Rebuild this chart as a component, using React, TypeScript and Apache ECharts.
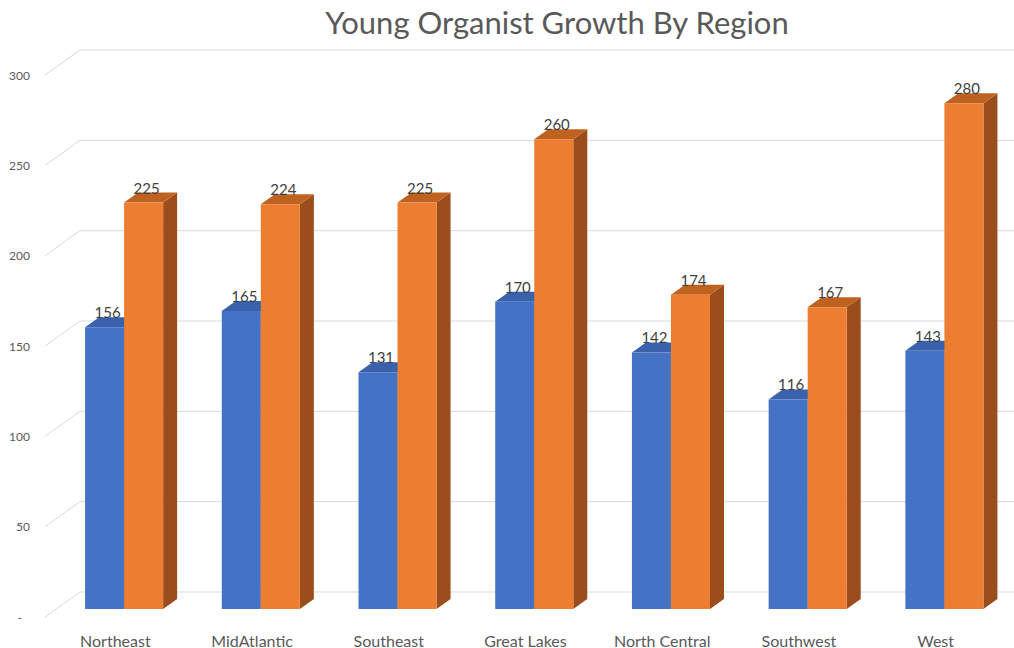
import React, { useEffect, useRef } from "react";
import * as echarts from "echarts";

const categories = ["Northeast", "MidAtlantic", "Southeast", "Great Lakes", "North Central", "Southwest", "West"];
const seriesA = [156, 165, 131, 170, 142, 116, 143];
const seriesB = [225, 224, 225, 260, 174, 167, 280];
const yTicks = [0, 50, 100, 150, 200, 250, 300];
const titleText = "Young Organist Growth By Region";

const FONT = "Lato, 'Open Sans', sans-serif";

const barColors = [
  { front: "#4472C4", top: "#3A62AC", side: "#2F5597" },
  { front: "#ED7D31", top: "#C0621F", side: "#9B4E1C" },
];

function makeBarRender(sIdx: number) {
  return (params: any, api: any) => {
    const i = api.value(0);
    const v = api.value(1);
    const [cx, y0] = api.coord([i, 0]);
    const yv = api.coord([i, v])[1];
    const band = api.size([1, 0])[0];
    const bw = band * 0.2855;
    const left = cx + (sIdx === 0 ? -band * 0.2215 : -band * 0.2215 + bw);
    const right = left + bw;
    const top = yv - 8;
    const bottom = y0 - 8;
    const dx = 14;
    const dy = -10;
    const c = barColors[sIdx];
    return {
      type: "group",
      children: [
        {
          type: "polygon",
          shape: { points: [[right, top], [right + dx, top + dy], [right + dx, bottom + dy], [right, bottom]] },
          style: { fill: c.side },
        },
        {
          type: "polygon",
          shape: { points: [[left, top], [left + dx, top + dy], [right + dx, top + dy], [right, top]] },
          style: { fill: c.top },
        },
        {
          type: "rect",
          shape: { x: left, y: top, width: bw, height: bottom - top },
          style: { fill: c.front },
        },
        {
          type: "text",
          x: left + bw / 2 + 3,
          y: top - 15,
          style: {
            text: String(v),
            fill: "#404040",
            font: `15px ${FONT}`,
            textAlign: "center",
            textVerticalAlign: "middle",
          },
        },
      ],
    };
  };
}

function gridRender(params: any, api: any) {
  const v = api.value(0);
  const y = api.coord([0, v])[1];
  const cs = params.coordSys;
  const x0 = cs.x - 2;
  return {
    type: "polyline",
    shape: { points: [[x0, y], [x0 + 35, y - 25], [1014, y - 25]] },
    style: { stroke: "#D9D9D9", lineWidth: 1, fill: "none" },
    silent: true,
  };
}

export default function App() {
  const ref = useRef<HTMLDivElement>(null);
  useEffect(() => {
    if (!ref.current) return;
    const chart = echarts.init(ref.current, undefined, { renderer: "svg" });
    chart.setOption({
      animation: false,
      backgroundColor: "#FFFFFF",
      graphic: [
        {
          type: "text",
          x: 557,
          y: 22,
          style: {
            text: titleText,
            fill: "#595959",
            font: `31px ${FONT}`,
            textAlign: "center",
            textVerticalAlign: "middle",
          },
        },
      ],
      grid: { left: 47, right: 10, top: 75, bottom: 31 },
      xAxis: {
        type: "category",
        data: categories,
        axisLine: { show: false },
        axisTick: { show: false },
        axisLabel: { color: "#595959", fontSize: 16, fontFamily: FONT, margin: 15 },
      },
      yAxis: {
        type: "value",
        min: 0,
        max: 300,
        interval: 50,
        splitLine: { show: false },
        axisLine: { show: false },
        axisTick: { show: false },
        axisLabel: {
          color: "#595959",
          fontSize: 12,
          fontFamily: FONT,
          margin: 17,
          formatter: (v: number) => (v === 0 ? "{d|-}" : String(v)),
          rich: { d: { color: "#595959", fontSize: 12, fontFamily: FONT, padding: [0, 8, 0, 0] } },
        },
      },
      series: [
        {
          type: "custom",
          name: "grid",
          renderItem: gridRender,
          data: yTicks.map((t) => [t]),
          encode: { y: 0 },
          silent: true,
          z: 1,
        },
        {
          type: "custom",
          name: "Series 1",
          renderItem: makeBarRender(0),
          data: seriesA.map((v, i) => [i, v]),
          encode: { x: 0, y: 1 },
          z: 2,
        },
        {
          type: "custom",
          name: "Series 2",
          renderItem: makeBarRender(1),
          data: seriesB.map((v, i) => [i, v]),
          encode: { x: 0, y: 1 },
          z: 3,
        },
      ],
    });
    return () => chart.dispose();
  }, []);
  return (
    <div
      ref={ref}
      style={{ position: "fixed", left: 0, top: 0, width: 1014, height: 648, background: "#fff" }}
    />
  );
}
